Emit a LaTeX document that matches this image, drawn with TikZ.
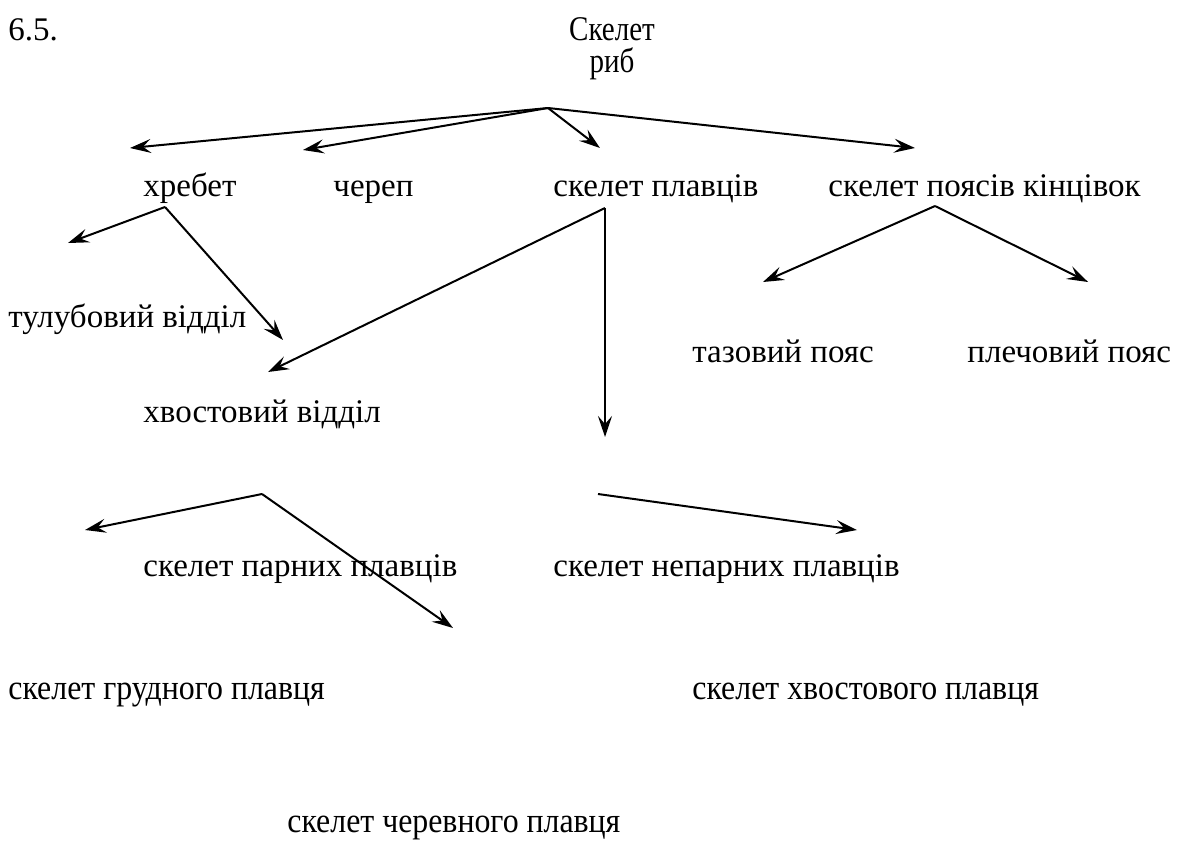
\documentclass[tikz,border=0pt]{standalone}
\usepackage{fontspec}
\setmainfont{Liberation Serif}[Script=Cyrillic]
\usetikzlibrary{arrows.meta}
\begin{document}
\begin{tikzpicture}[x=0.5pt,y=-0.5pt,
  lbl/.style={anchor=base west,inner sep=0pt,font=\rmfamily\fontsize{16.5}{20}\selectfont},
  lblc/.style={anchor=base,inner sep=0pt,font=\rmfamily\fontsize{16.5}{20}\selectfont},
  narrow/.style={xscale=0.88,yscale=1.05},
  slim/.style={xscale=0.965,yscale=1.06},
  conn/.style={line width=1pt,-{Stealth[length=10.5pt,width=7pt,inset=4pt]}}]
\useasboundingbox (0,0) rectangle (1182,841);

% labels
\node[lbl]  (num)   at (8,40)    {6.5.};
\node[lblc,narrow] (root1) at (612,40)  {Скелет};
\node[lblc,narrow] (root2) at (612,72)  {риб};
\node[lbl]  (spine) at (143,196) {хребет};
\node[lbl]  (skull) at (333,196) {череп};
\node[lbl]  (fins)  at (553,196) {скелет плавців};
\node[lbl]  (belts) at (828,196) {скелет поясів кінцівок};
\node[lbl]  (trunk) at (8,327)   {тулубовий відділ};
\node[lbl]  (pelv)  at (692,362) {тазовий пояс};
\node[lbl]  (shld)  at (967,362) {плечовий пояс};
\node[lbl]  (tail)  at (143,422) {хвостовий відділ};
\node[lbl]  (pair)  at (143,576) {скелет парних плавців};
\node[lbl]  (unp)   at (553,576) {скелет непарних плавців};
\node[lbl,slim]  (pect)  at (8,699)   {скелет грудного плавця};
\node[lbl,slim]  (caud)  at (692,699) {скелет хвостового плавця};
\node[lbl,slim]  (vent)  at (287,832) {скелет черевного плавця};

% branch points and arrow ends
\coordinate (top) at (548,108);
\coordinate (t1) at (130,148);
\coordinate (t2) at (303,150);
\coordinate (t3) at (600,148);
\coordinate (t4) at (915,148);
\coordinate (sp) at (165,207);
\coordinate (s1) at (68,243);
\coordinate (s2) at (283,340);
\coordinate (fp) at (605,208);
\coordinate (f1) at (268,372);
\coordinate (f2) at (605,437);
\coordinate (bp) at (935,206);
\coordinate (b1) at (763,282);
\coordinate (b2) at (1088,282);
\coordinate (tp) at (262,494);
\coordinate (p1) at (85,530);
\coordinate (p2) at (453,628);
\coordinate (up) at (598,494);
\coordinate (u1) at (857,530);

% connectors
\draw[conn] (top) -- (t1);
\draw[conn] (top) -- (t2);
\draw[conn] (top) -- (t3);
\draw[conn] (top) -- (t4);
\draw[conn] (sp) -- (s1);
\draw[conn] (sp) -- (s2);
\draw[conn] (fp) -- (f1);
\draw[conn] (fp) -- (f2);
\draw[conn] (bp) -- (b1);
\draw[conn] (bp) -- (b2);
\draw[conn] (tp) -- (p1);
\draw[conn] (tp) -- (p2);
\draw[conn] (up) -- (u1);
\end{tikzpicture}
\end{document}
